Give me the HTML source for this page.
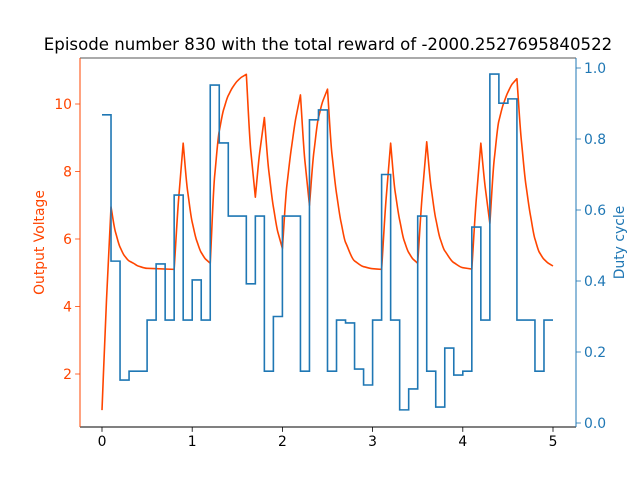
<!DOCTYPE html>
<html><head><meta charset="utf-8"><style>
body{margin:0;background:#fff}
svg{display:block;font-family:"DejaVu Sans","Liberation Sans",sans-serif}
</style></head><body>
<svg id="chart" width="640" height="480" viewBox="0 0 640 480">
<rect width="640" height="480" fill="#fff"/>
<text x="328" y="50" text-anchor="middle" font-size="16.6" fill="#000">Episode number 830 with the total reward of -2000.2527695840522</text>
<text transform="translate(44,242.5) rotate(-90)" text-anchor="middle" font-size="13.9" fill="#ff4500">Output Voltage</text>
<text transform="translate(624,242.5) rotate(-90)" text-anchor="middle" font-size="13.9" fill="#1f77b4">Duty cycle</text>
<g id="plot"></g>
</svg>
<script>
const voltT = [0,0.05,0.1,0.15,0.2,0.25,0.3,0.35,0.4,0.5,0.8,0.85,0.9,0.95,1.0,1.05,1.1,1.15,1.2,1.25,1.3,1.35,1.4,1.45,1.5,1.55,1.6,1.65,1.7,1.75,1.8,1.85,1.9,1.95,2.0,2.05,2.1,2.15,2.2,2.25,2.3,2.35,2.4,2.45,2.5,2.55,2.6,2.65,2.7,2.8,2.9,3.0,3.1,3.15,3.2,3.25,3.3,3.35,3.4,3.45,3.5,3.55,3.6,3.65,3.7,3.75,3.8,3.9,4.0,4.1,4.15,4.2,4.25,4.3,4.35,4.4,4.45,4.5,4.55,4.6,4.65,4.7,4.75,4.8,4.85,4.9,4.95,5.0];
const voltV = [0.93,4.2,6.95,6.2,5.76,5.5,5.35,5.28,5.2,5.13,5.1,7.2,8.84,7.4,6.5,5.95,5.6,5.4,5.28,7.9,9.2,9.85,10.25,10.5,10.68,10.8,10.88,8.6,7.24,8.6,9.6,8.0,6.95,6.2,5.72,7.6,8.7,9.6,10.27,8.3,7.0,8.6,9.6,10.1,10.44,8.5,7.35,6.5,5.9,5.35,5.18,5.12,5.1,7.2,8.84,7.4,6.56,5.95,5.6,5.4,5.28,7.3,8.88,7.5,6.6,6.0,5.65,5.3,5.15,5.11,7.2,8.84,7.5,6.46,8.4,9.5,10.0,10.35,10.6,10.75,8.9,7.6,6.7,6.0,5.6,5.4,5.28,5.2];
const duty = [0.868,0.456,0.121,0.146,0.146,0.29,0.448,0.29,0.642,0.29,0.403,0.29,0.952,0.789,0.583,0.583,0.392,0.583,0.146,0.30,0.583,0.583,0.146,0.854,0.882,0.146,0.29,0.282,0.152,0.107,0.29,0.70,0.29,0.037,0.096,0.583,0.146,0.045,0.211,0.135,0.146,0.552,0.29,0.983,0.901,0.913,0.29,0.29,0.146,0.29];
const xTicks = [0,1,2,3,4,5];
const leftTicks = [2,4,6,8,10];
const rightTicks = [0.0,0.2,0.4,0.6,0.8,1.0];

const X0=80,X1=576,Y0=58,Y1=427;
const xs = t => 102 + t*90.2;
const yl = v => 374 - (v-2)*33.75;
const yr = d => 423 - d*355;
const NS="http://www.w3.org/2000/svg";
const plot=document.getElementById('plot');
function mk(tag,attrs,parent){const e=document.createElementNS(NS,tag);for(const k in attrs)e.setAttribute(k,attrs[k]);(parent||plot).appendChild(e);return e;}

// voltage line: smooth within monotone runs, sharp at local extrema
const P=voltT.map((t,i)=>[xs(t),yl(voltV[i])]);
const n=P.length;
const sl=[];
for(let i=0;i<n;i++){
  if(i===0||i===n-1){const j=i===0?1:n-2;sl.push((P[i===0?1:i][1]-P[i===0?0:j][1])/(P[i===0?1:i][0]-P[i===0?0:j][0]));continue;}
  const s1=(P[i][1]-P[i-1][1])/(P[i][0]-P[i-1][0]);
  const s2=(P[i+1][1]-P[i][1])/(P[i+1][0]-P[i][0]);
  sl.push(null);sl[i]=[s1,s2];
}
let d='M'+P[0][0].toFixed(2)+','+P[0][1].toFixed(2);
for(let i=0;i<n-1;i++){
  const h=P[i+1][0]-P[i][0];
  const seg=(P[i+1][1]-P[i][1])/h;
  const outS=i===0?seg:(sl[i][0]*sl[i][1]>0?Math.sign(seg)*Math.min(Math.abs(sl[i][0]),Math.abs(sl[i][1]),Math.abs((sl[i][0]+sl[i][1])/2)):seg);
  const inS=i+1===n-1?seg:(sl[i+1][0]*sl[i+1][1]>0?Math.sign(seg)*Math.min(Math.abs(sl[i+1][0]),Math.abs(sl[i+1][1]),Math.abs((sl[i+1][0]+sl[i+1][1])/2)):seg);
  d+='C'+(P[i][0]+h/3).toFixed(2)+','+(P[i][1]+outS*h/3).toFixed(2)+' '+(P[i+1][0]-h/3).toFixed(2)+','+(P[i+1][1]-inS*h/3).toFixed(2)+' '+P[i+1][0].toFixed(2)+','+P[i+1][1].toFixed(2);
}
const vl=mk('path',{d:d,fill:'none',stroke:'#ff4500','stroke-width':1.6,'stroke-linejoin':'round'});



// duty step line
let d2='';
duty.forEach((v,i)=>{const xa=xs(i*0.1),xb=xs((i+1)*0.1),y=yr(v);d2+=(i?'L':'M')+xa.toFixed(2)+','+y.toFixed(2)+'L'+xb.toFixed(2)+','+y.toFixed(2);});
const dl=mk('path',{d:d2,fill:'none',stroke:'#1f77b4','stroke-width':1.6,'stroke-linejoin':'miter'});



// spines
const sp=[[X0,Y0,X1,Y0,'#555','top-spine'],[X0,Y1,X1,Y1,'#000','bottom-spine'],[X0,Y0,X0,Y1,'#ff4500','left-spine'],[X1,Y0,X1,Y1,'#1f77b4','right-spine']];
sp.forEach(s=>{const l=mk('line',{x1:s[0],y1:s[1],x2:s[2],y2:s[3],stroke:s[4],'stroke-width':1});

});

xTicks.forEach(t=>{const x=xs(t);
const l=mk('line',{x1:x,y1:Y1,x2:x,y2:Y1+4.9,stroke:'#000','stroke-width':0.8});


const tx=mk('text',{x:x,y:Y1+19,'text-anchor':'middle','font-size':13.9,fill:'#000'});tx.textContent=t;

});

leftTicks.forEach(v=>{const y=yl(v);
const l=mk('line',{x1:X0-4.9,y1:y,x2:X0,y2:y,stroke:'#ff4500','stroke-width':0.8});


const tx=mk('text',{x:X0-8,y:y+5,'text-anchor':'end','font-size':13.9,fill:'#ff4500'});tx.textContent=v;

});

rightTicks.forEach(v=>{const y=yr(v);
const l=mk('line',{x1:X1,y1:y,x2:X1+4.9,y2:y,stroke:'#1f77b4','stroke-width':0.8});


const tx=mk('text',{x:X1+8,y:y+5,'text-anchor':'start','font-size':13.9,fill:'#1f77b4'});tx.textContent=v.toFixed(1);

});
</script>
</body></html>
